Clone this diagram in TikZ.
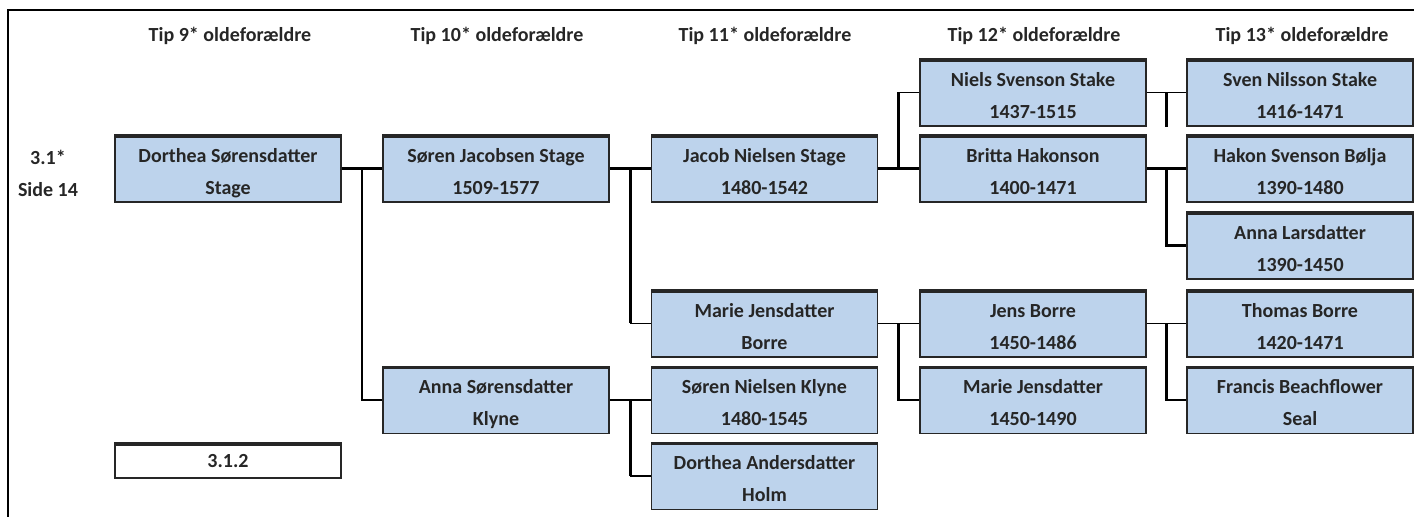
\documentclass[tikz,border=0pt]{standalone}
\usepackage{fontspec}
\setmainfont{Carlito}
\usepackage{tikz}
\usetikzlibrary{calc, positioning}

\definecolor{boxblue}{RGB}{189,211,236}

\begin{document}
\begin{tikzpicture}[
    x=0.5pt, y=-0.5pt,
    % Define styles
    personbox/.style={rectangle, draw=black!85, line width=0.6pt, fill=boxblue, minimum width=113pt, minimum height=33.5pt, inner sep=0pt, align=center, text=black!85, font=\bfseries\fontsize{10}{16}\selectfont, text height=25.6pt, text depth=0pt,
        path picture={\draw[line width=2.6pt] (path picture bounding box.north west) -- (path picture bounding box.north east);}},
    numbox/.style={personbox, fill=white, minimum height=17.5pt, text height=6.6pt},
    header/.style={font=\bfseries\fontsize{10}{11}\selectfont, text=black!85},
    link/.style={line width=1.3pt, draw=black},
    thinlink/.style={line width=0.6pt, draw=black}
]
    \useasboundingbox (0,0) rectangle (1414,517);
    \draw[line width=1.2pt] (8,517) -- (8,10) -- (1414,10);

    % Column headers
    \node[header] (h9) at (230,36) {Tip 9* oldeforældre};
    \node[header] (h10) at (497,36) {Tip 10* oldeforældre};
    \node[header] (h11) at (765,36) {Tip 11* oldeforældre};
    \node[header] (h12) at (1034,36) {Tip 12* oldeforældre};
    \node[header] (h13) at (1302,36) {Tip 13* oldeforældre};

    % Reference to page
    \node[header, align=center, font=\bfseries\fontsize{10}{16}\selectfont] (ref) at (48,173) {3.1*\\Side 14};

    % 1. Tip 9*
    \node[personbox] (dorthea) at (228,168.5) {Dorthea Sørensdatter\\Stage};
    \node[numbox] (num) at (228,460.5) {3.1.2};

    % 2. Tip 10*
    \node[personbox] (soeren) at (496,168.5) {Søren Jacobsen Stage\\1509-1577};
    \node[personbox] (annaS) at (496,400) {Anna Sørensdatter\\Klyne};

    % 3. Tip 11*
    \node[personbox] (jacob) at (764.5,168.5) {Jacob Nielsen Stage\\1480-1542};
    \node[personbox] (marieB) at (764.5,323.5) {Marie Jensdatter\\Borre};
    \node[personbox] (soerenK) at (764.5,400) {Søren Nielsen Klyne\\1480-1545};
    \node[personbox] (dortheaH) at (764.5,476) {Dorthea Andersdatter\\Holm};

    % 4. Tip 12*
    \node[personbox] (niels) at (1033,92.5) {Niels Svenson Stake\\1437-1515};
    \node[personbox] (britta) at (1033,168.5) {Britta Hakonson\\1400-1471};
    \node[personbox] (jens) at (1033,323.5) {Jens Borre\\1450-1486};
    \node[personbox] (marieJ) at (1033,400) {Marie Jensdatter\\1450-1490};

    % 5. Tip 13*
    \node[personbox] (sven) at (1300,92.5) {Sven Nilsson Stake\\1416-1471};
    \node[personbox] (hakon) at (1300,168.5) {Hakon Svenson Bølja\\1390-1480};
    \node[personbox] (annaL) at (1300,245.5) {Anna Larsdatter\\1390-1450};
    \node[personbox] (thomas) at (1300,323.5) {Thomas Borre\\1420-1471};
    \node[personbox] (francis) at (1300,400) {Francis Beachflower\\Seal};

    % Connections: child to father and mother
    \coordinate (j1) at ($(dorthea.east)!.5!(soeren.west)$);
    \draw[link] (dorthea.east) -- (soeren.west);
    \draw[link] (j1) |- (annaS.west);

    \coordinate (j2) at ($(soeren.east)!.5!(jacob.west)$);
    \draw[link] (soeren.east) -- (jacob.west);
    \draw[link] (j2) -- (j2 |- marieB.west);
    \draw[thinlink] (j2 |- marieB.west) -- (marieB.west);

    \coordinate (j3) at ($(annaS.east)!.5!(soerenK.west)$);
    \draw[link] (annaS.east) -- (soerenK.west);
    \draw[link] (j3) -- (j3 |- dortheaH.west);
    \draw[thinlink] (j3 |- dortheaH.west) -- (dortheaH.west);

    \coordinate (j4) at ($(jacob.east)!.5!(britta.west)$);
    \draw[link] (jacob.east) -- (britta.west);
    \draw[link] (j4) -- (j4 |- niels.west);
    \draw[thinlink] (j4 |- niels.west) -- (niels.west);

    \coordinate (j5) at ($(marieB.east)!.5!(jens.west)$);
    \draw[thinlink] (marieB.east) -- (jens.west);
    \draw[link] (j5) |- (marieJ.west);

    \coordinate (j6) at ($(niels.east)!.5!(sven.west)$);
    \draw[thinlink] (niels.east) -- (sven.west);
    \draw[link] (j6) -- (j6 |- niels.south);

    \coordinate (j7) at ($(britta.east)!.5!(hakon.west)$);
    \draw[link] (britta.east) -- (hakon.west);
    \draw[link] (j7) |- (annaL.west);

    \coordinate (j8) at ($(jens.east)!.5!(thomas.west)$);
    \draw[thinlink] (jens.east) -- (thomas.west);
    \draw[link] (j8) |- (francis.west);

\end{tikzpicture}
\end{document}
